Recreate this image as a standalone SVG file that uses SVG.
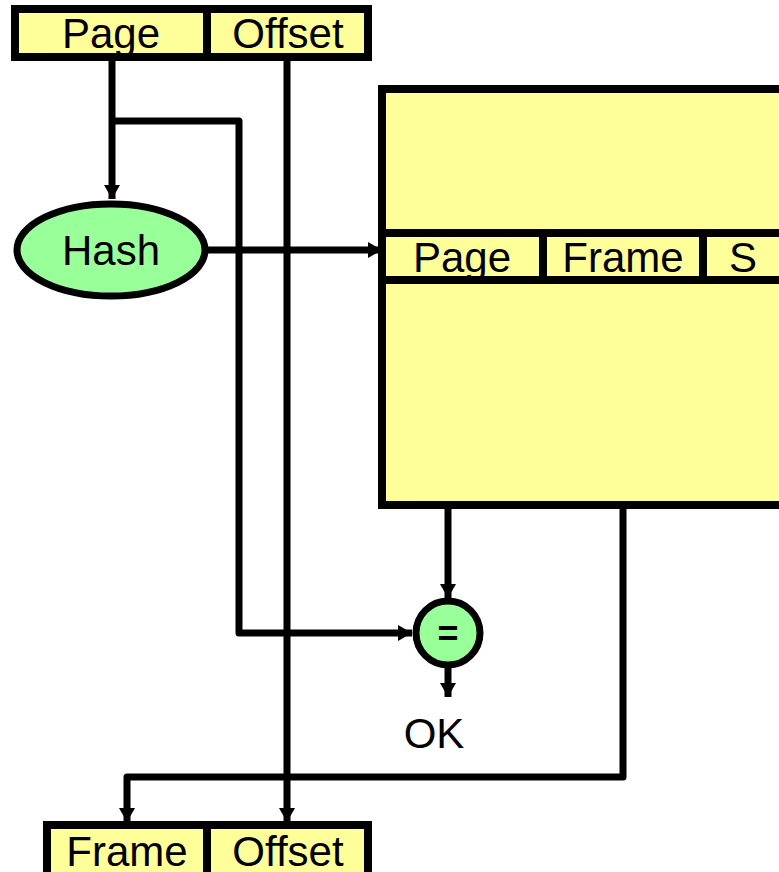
<svg xmlns="http://www.w3.org/2000/svg" width="779" height="872" viewBox="0 0 779 872">
<style>
.fill{fill:#FFFF99}
.frame{fill:none;stroke:#000;stroke-width:8}
.sep{stroke:#000;stroke-width:8}
.grn{fill:#99FF99;stroke:#000;stroke-width:7}
.t{font-family:"Liberation Sans",Arial,sans-serif;font-size:42px;fill:#000;text-anchor:middle}
.c{fill:none;stroke:#000;stroke-width:7;stroke-linejoin:round}
</style>
<defs>
<marker id="ah" markerUnits="userSpaceOnUse" markerWidth="16" markerHeight="16" refX="14" refY="8" orient="auto">
<path d="M0,0 L14,8 L0,16 z" fill="#000"/>
</marker>
</defs>
<rect width="779" height="872" fill="#fff"/>
<g id="connectors">
<path class="c" d="M112,61 V199" marker-end="url(#ah)"/>
<path class="c" d="M112,121 H239 V633 H412" marker-end="url(#ah)"/>
<path class="c" d="M287,61 V822" marker-end="url(#ah)"/>
<path class="c" d="M208,250 H382" marker-end="url(#ah)"/>
<path class="c" d="M448,505 V598" marker-end="url(#ah)"/>
<path class="c" d="M448,668 V697" marker-end="url(#ah)"/>
<path class="c" d="M623,505 V777 H127 V822" marker-end="url(#ah)"/>
</g>
<g id="virtual-address">
<rect class="fill" x="15" y="9" width="353" height="48"/>
<text class="t" x="111" y="48">Page</text>
<text class="t" x="288" y="48">Offset</text>
<rect class="frame" x="15" y="9" width="353" height="48"/>
<line class="sep" x1="207" y1="9" x2="207" y2="57"/>
</g>
<g id="hash">
<ellipse class="grn" cx="111" cy="250" rx="94" ry="46"/>
<text class="t" x="111" y="265">Hash</text>
</g>
<g id="page-table">
<rect class="fill" x="382" y="89" width="420" height="416"/>
<text class="t" x="462" y="272">Page</text>
<text class="t" x="623" y="272">Frame</text>
<text class="t" x="743" y="272">S</text>
<rect class="frame" x="382" y="89" width="420" height="416"/>
<line class="sep" x1="382" y1="233" x2="779" y2="233"/>
<line class="sep" x1="382" y1="280" x2="779" y2="280"/>
<line class="sep" x1="543" y1="233" x2="543" y2="280"/>
<line class="sep" x1="703" y1="233" x2="703" y2="280"/>
</g>
<g id="compare">
<circle class="grn" cx="448" cy="633" r="32"/>
<text class="t" x="448" y="646" style="font-size:36px;font-weight:bold">=</text>
</g>
<g id="ok">
<text class="t" x="434" y="748">OK</text>
</g>
<g id="physical-address">
<rect class="fill" x="47" y="825" width="321" height="60"/>
<text class="t" x="127" y="866">Frame</text>
<text class="t" x="288" y="866">Offset</text>
<rect class="frame" x="47" y="825" width="321" height="60"/>
<line class="sep" x1="207" y1="825" x2="207" y2="880"/>
</g>
</svg>
